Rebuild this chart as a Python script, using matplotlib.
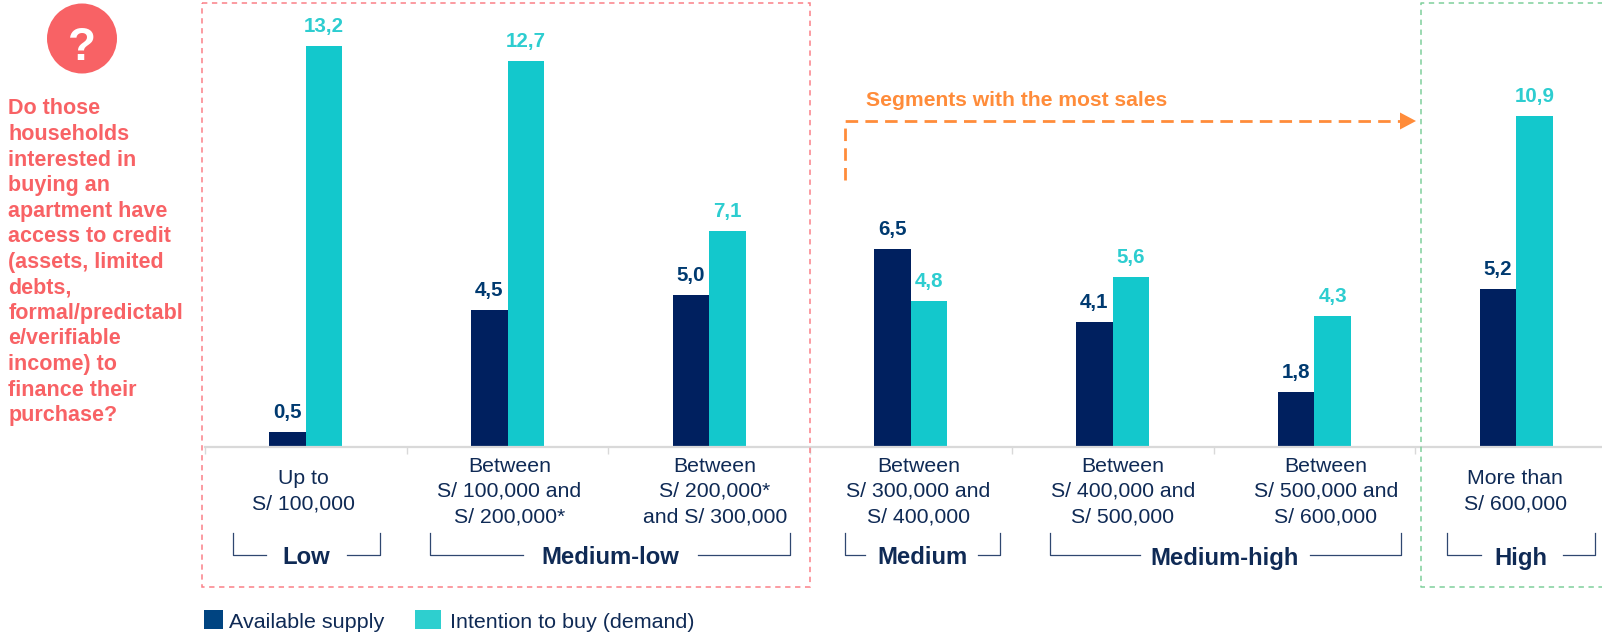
import matplotlib
matplotlib.use("Agg")
import matplotlib.pyplot as plt
from matplotlib.patches import Circle, Rectangle, Polygon
from matplotlib.transforms import ScaledTranslation

plt.rcParams['font.family'] = ['Liberation Sans', 'DejaVu Sans']

categories = ["Up to\nS/ 100,000", "Between\nS/ 100,000 and\nS/ 200,000*", "Between\nS/ 200,000*\nand S/ 300,000",
              "Between\nS/ 300,000 and\nS/ 400,000", "Between\nS/ 400,000 and\nS/ 500,000",
              "Between\nS/ 500,000 and\nS/ 600,000", "More than\nS/ 600,000"]
supply = [0.5, 4.5, 5.0, 6.5, 4.1, 1.8, 5.2]
demand = [13.2, 12.7, 7.1, 4.8, 5.6, 4.3, 10.9]
series_names = ["Available supply", "Intention to buy (demand)"]
question = ["Do those", "households", "interested in", "buying an", "apartment have", "access to credit",
            "(assets, limited", "debts,", "formal/predictabl", "e/verifiable", "income) to", "finance their", "purchase?"]
segments = ["Low", "Medium-low", "Medium", "Medium-high", "High"]
callout = "Segments with the most sales"

NAVY = "#00205F"; TEAL = "#13C8CC"; TXT = "#0F2A55"; LBL_NAVY = "#003A70"; LBL_TEAL = "#2DCDD0"
RED = "#F86265"; DASH_RED = "#FA8088"; GREEN = "#7FD09B"; ORANGE = "#FF8C3A"

W, H = 1602, 632
fig = plt.figure(figsize=(W/100, H/100), dpi=100, facecolor="white")
base_y, top_y, left_x, step = 447, 5, 205, 201.7
ax = fig.add_axes([left_x/W, 1-base_y/H, (W-left_x)/W, (base_y-top_y)/H])
ax.set_facecolor("none")
ax.set_xlim(0, (W-left_x)/step)
ax.set_ylim(0, (base_y-top_y)/30.4)
bw = 0.181
for i, (s, d) in enumerate(zip(supply, demand)):
    c = i + 0.5
    ax.bar(c-bw/2, s, bw, color=NAVY)
    ax.bar(c+bw/2, d, bw, color=TEAL)
    ax.annotate(f"{s:.1f}".replace(".", ","), (c-bw/2, s), xytext=(0, 14), textcoords="offset points",
                ha="center", va="center", fontsize=14.8, fontweight="bold", color=LBL_NAVY)
    ax.annotate(f"{d:.1f}".replace(".", ","), (c+bw/2, d), xytext=(0, 14), textcoords="offset points",
                ha="center", va="center", fontsize=14.8, fontweight="bold", color=LBL_TEAL)
for sp in ["top", "left", "right"]:
    ax.spines[sp].set_visible(False)
ax.spines["bottom"].set_color("#D9D9D9")
ax.spines["bottom"].set_linewidth(1.6)
ax.set_yticks([])
ax.set_xticks(range(7))
ax.set_xticklabels([])
ax.tick_params(axis="x", which="major", length=5, width=1, color="#D9D9D9")
ax.set_xticks([i+0.5 for i in range(7)], minor=True)
ax.set_xticklabels(categories, minor=True, fontsize=15.3, color=TXT, linespacing=1.42, va="center", ha="center")
ax.tick_params(axis="x", which="minor", length=0, pad=32)
label_dx = [-2.3, 2, 5.8, 7.5, 10.3, 11.6, -1]
for lbl, dx in zip(ax.get_xticklabels(minor=True), label_dx):
    lbl.set_transform(lbl.get_transform() + ScaledTranslation(dx/100, 0, fig.dpi_scale_trans))

ov = fig.add_axes([0, 0, 1, 1], zorder=5)
ov.set_xlim(0, W); ov.set_ylim(H, 0); ov.axis("off"); ov.patch.set_alpha(0)

ov.add_patch(Circle((82, 38.5), 35, color=RED, lw=0))
ov.text(82, 47.5, "?", color="white", fontsize=33, fontweight="bold", ha="center", va="center")
for i, line in enumerate(question):
    ov.text(8.5, 109+i*25.55, line, color=RED, fontsize=15.5, fontweight="bold", ha="left", va="center")

ov.add_patch(Rectangle((202, 3), 608, 583.5, fill=False, ec=DASH_RED, lw=1.1, ls=(0, (3.5, 3))))
ov.plot([W+5, 1421, 1421, W+5], [3, 3, 586.5, 586.5], color=GREEN, lw=1.1, ls=(0, (3.5, 3)))

ov.text(865.5, 101, callout, color=ORANGE, fontsize=15.25, fontweight="bold", ha="left", va="center")
ov.plot([844.5, 844.5, 1402], [180, 121, 121], color=ORANGE, lw=2, ls=(0, (4.5, 2.6)))
ov.add_patch(Polygon([[1400, 112.5], [1416, 121], [1400, 129.5]], color=ORANGE, lw=0))

brackets = [(233, 380, 266, 347, 306), (430, 790.4, 523, 698, 610), (845, 1000, 865, 978, 922.6),
            (1049.5, 1401, 1140, 1310, 1224.6), (1447.4, 1595, 1481, 1562.6, 1521)]
for name, (l, r, g1, g2, c) in zip(segments, brackets):
    ov.plot([l, l, g1], [533, 555, 555], color="#2F4770", lw=0.9)
    ov.plot([g2, r, r], [555, 555, 533], color="#2F4770", lw=0.9)
    ov.text(c, 558, name, color=TXT, fontsize=17.2, fontweight="bold", ha="center", va="center")

ov.add_patch(Rectangle((204, 610), 19, 19, color="#004481", lw=0))
ov.text(229, 622, series_names[0], color=TXT, fontsize=15.45, ha="left", va="center")
ov.add_patch(Rectangle((415, 610), 26, 19, color="#2ECFCF", lw=0))
ov.text(450, 623, series_names[1], color=TXT, fontsize=15.45, ha="left", va="center")

fig.savefig("out.png", dpi=100)
